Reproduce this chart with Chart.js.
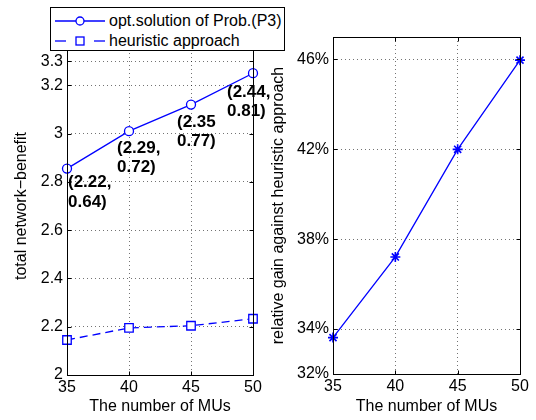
<!DOCTYPE html>
<html lang="en">
<head>
    <meta charset="UTF-8">
    <title>network benefit and relative gain</title>
    <script src="https://cdn.jsdelivr.net/npm/chart.js"></script>
    <style>
        body {
            margin: 0;
            background-color: #ffffff;
            font-family: "Liberation Sans", Arial, sans-serif;
        }
        #wrap {
            position: relative;
            width: 536px;
            height: 420px;
            overflow: hidden;
        }
        canvas {
            position: absolute;
            top: 0;
        }
        #leftChart { left: 0; }
        #rightChart { left: 262px; }
        #legend {
            position: absolute;
            left: 50px;
            top: 7px;
            width: 233px;
            height: 42px;
            border: 1px solid #000;
            background: #fff;
            font-size: 16px;
            color: #000;
            z-index: 5;
        }
        .row {
            position: absolute;
            left: 4px;
            height: 20px;
            display: flex;
            align-items: center;
        }
        .row svg { margin-right: 4px; }
    </style>
</head>
<body>
<div id="wrap">
    <canvas id="leftChart" width="275" height="420"></canvas>
    <canvas id="rightChart" width="274" height="420"></canvas>
    <div id="legend">
        <div class="row" style="top:3px">
            <svg width="50" height="12"><line x1="0" y1="6" x2="50" y2="6" stroke="#0000ff" stroke-width="1.3"/><circle cx="25" cy="6" r="4" fill="#fff" stroke="#0000ff" stroke-width="1.3"/></svg>
            <span>opt.solution of Prob.(P3)</span>
        </div>
        <div class="row" style="top:23px">
            <svg width="50" height="12"><line x1="0" y1="6" x2="11" y2="6" stroke="#0000ff" stroke-width="1.3"/><line x1="39" y1="6" x2="50" y2="6" stroke="#0000ff" stroke-width="1.3"/><rect x="21" y="2" width="8" height="8" fill="#fff" stroke="#0000ff" stroke-width="1.3"/></svg>
            <span>heuristic approach</span>
        </div>
    </div>
</div>
<script>
    // data
    let numMUs = [35, 40, 45, 50];
    let optBenefit = [2.855, 3.01, 3.12, 3.25];
    let heurBenefit = [2.145, 2.195, 2.204, 2.233];
    let relGain = [33.62, 37.21, 42.0, 45.97];
    let optLabelTop = ['(2.22,', '(2.29,', '(2.35', '(2.44,'];
    let optLabelBottom = ['0.64)', '0.72)', '0.77)', '0.81)'];
    let leftTicks = [2, 2.2, 2.4, 2.6, 2.8, 3, 3.2, 3.3];
    let rightTicks = [32, 34, 38, 42, 46];

    const blue = '#0000ff';
    const font = { family: '"Liberation Sans", Arial, sans-serif', size: 16 };

    // box + small inward ticks like matlab axes
    const framePlugin = {
        id: 'frame',
        afterDraw(chart) {
            let ctx = chart.ctx;
            let a = chart.chartArea;
            let l = Math.round(a.left) + 0.5, r = Math.round(a.right) + 0.5;
            let t = Math.round(a.top) + 0.5, b = Math.round(a.bottom) + 0.5;
            ctx.save();
            ctx.strokeStyle = '#000';
            ctx.lineWidth = 1;
            ctx.strokeRect(l, t, r - l, b - t);
            ctx.beginPath();
            for (let tk of chart.scales.x.ticks) {
                let px = Math.round(chart.scales.x.getPixelForValue(tk.value)) + 0.5;
                ctx.moveTo(px, b); ctx.lineTo(px, b - 4);
                ctx.moveTo(px, t); ctx.lineTo(px, t + 4);
            }
            for (let tk of chart.scales.y.ticks) {
                let py = Math.round(chart.scales.y.getPixelForValue(tk.value)) + 0.5;
                ctx.moveTo(l, py); ctx.lineTo(l + 4, py);
                ctx.moveTo(r, py); ctx.lineTo(r - 4, py);
            }
            ctx.stroke();
            ctx.restore();
        }
    };

    // the (x, y) text boxes next to the optimum points
    const labelOffsets = [[1, 14, 34], [-12, 17, 36], [-14, 18, 37], [-26, 19, 38]];
    const pointLabelPlugin = {
        id: 'pointLabels',
        afterDatasetsDraw(chart) {
            let meta = chart.getDatasetMeta(0);
            let ctx = chart.ctx;
            ctx.save();
            ctx.font = 'bold 17px "Liberation Sans", Arial, sans-serif';
            ctx.fillStyle = '#000';
            ctx.textAlign = 'left';
            ctx.textBaseline = 'middle';
            meta.data.forEach((pt, i) => {
                let o = labelOffsets[i];
                ctx.fillText(optLabelTop[i], pt.x + o[0], pt.y + o[1]);
                ctx.fillText(optLabelBottom[i], pt.x + o[0], pt.y + o[2]);
            });
            ctx.restore();
        }
    };

    function xScale(height) {
        return {
            type: 'linear',
            min: 35,
            max: 50,
            afterBuildTicks: s => { s.ticks = numMUs.map(v => ({ value: v })); },
            afterFit: s => { s.height = height; },
            grid: { color: 'rgba(0,0,0,0.55)', drawTicks: false },
            border: { display: false, dash: [1, 3] },
            ticks: { color: '#000', font: font, padding: 3, maxRotation: 0 },
            title: { display: true, text: 'The number of MUs', color: '#000', font: font, padding: { top: 0, bottom: 4 } }
        };
    }

    function yScale(opts) {
        return {
            type: 'linear',
            min: opts.min,
            max: opts.max,
            afterBuildTicks: s => { s.ticks = opts.ticks.map(v => ({ value: v })); },
            afterFit: s => { s.width = opts.width; },
            grid: { color: 'rgba(0,0,0,0.55)', drawTicks: false },
            border: { display: false, dash: [1, 3] },
            ticks: { color: '#000', font: font, padding: 4, callback: opts.fmt },
            title: { display: true, text: opts.title, color: '#000', font: font, padding: { top: opts.titlePad, bottom: 0 } }
        };
    }

    new Chart(document.getElementById('leftChart'), {
        type: 'line',
        data: {
            datasets: [
                {
                    label: 'opt.solution of Prob.(P3)',
                    data: numMUs.map((x, i) => ({ x: x, y: optBenefit[i] })),
                    borderColor: blue,
                    borderWidth: 1.3,
                    backgroundColor: '#fff',
                    pointStyle: 'circle',
                    pointRadius: 4.5,
                    pointBorderWidth: 1.3,
                    pointBorderColor: blue,
                    clip: false
                },
                {
                    label: 'heuristic approach',
                    data: numMUs.map((x, i) => ({ x: x, y: heurBenefit[i] })),
                    borderColor: blue,
                    borderWidth: 1.3,
                    borderDash: [8, 5],
                    backgroundColor: '#fff',
                    pointStyle: 'rect',
                    pointRadius: 6,
                    pointBorderWidth: 1.3,
                    pointBorderColor: blue,
                    clip: false
                }
            ]
        },
        options: {
            responsive: false,
            animation: false,
            devicePixelRatio: 1,
            layout: { padding: { left: 0, right: 22, top: 37, bottom: 0 } },
            plugins: { legend: { display: false }, tooltip: { enabled: false } },
            scales: {
                x: xScale(45),
                y: yScale({ min: 2, max: 3.4, ticks: leftTicks, width: 67, title: 'total network\u2212benefit', titlePad: 12, fmt: v => String(v) })
            }
        },
        plugins: [framePlugin, pointLabelPlugin]
    });

    new Chart(document.getElementById('rightChart'), {
        type: 'line',
        data: {
            datasets: [
                {
                    label: 'relative gain',
                    data: numMUs.map((x, i) => ({ x: x, y: relGain[i] })),
                    borderColor: blue,
                    borderWidth: 1.3,
                    pointStyle: 'star',
                    pointRadius: 5,
                    pointBorderWidth: 1.6,
                    pointBorderColor: blue,
                    clip: false
                }
            ]
        },
        options: {
            responsive: false,
            animation: false,
            devicePixelRatio: 1,
            layout: { padding: { left: 0, right: 16, top: 37, bottom: 0 } },
            plugins: { legend: { display: false }, tooltip: { enabled: false } },
            scales: {
                x: xScale(46),
                y: yScale({ min: 32, max: 47, ticks: rightTicks, width: 71, title: 'relative gain against heuristic approach', titlePad: 7, fmt: v => v + '%' })
            }
        },
        plugins: [framePlugin]
    });
</script>
</body>
</html>
